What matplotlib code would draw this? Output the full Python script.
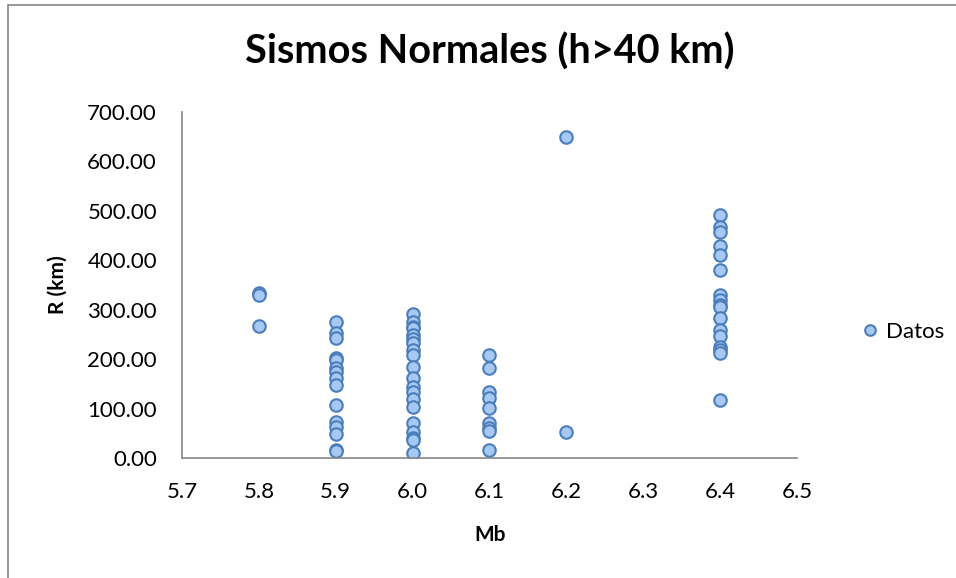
import matplotlib.pyplot as plt
from matplotlib.patches import Rectangle

# magnitude groups and distances R (km)
mb_58 = [333, 329, 268]
mb_59 = [276, 252, 242, 203, 198, 182, 175, 162, 148, 107, 72, 62, 48, 17, 15]
mb_60 = [291, 276, 265, 262, 249, 240, 232, 219, 208, 185, 161, 144, 134, 120, 104, 70, 53, 40, 36, 10]
mb_61 = [208, 182, 134, 121, 101, 70, 60, 55, 16]
mb_62 = [649, 53]
mb_64 = [492, 468, 458, 428, 411, 381, 330, 320, 310, 305, 283, 259, 246, 225, 219, 212, 117]

groups = [(5.8, mb_58), (5.9, mb_59), (6.0, mb_60), (6.1, mb_61), (6.2, mb_62), (6.4, mb_64)]
mb = []
r = []
for m, vals in groups:
    mb += [m] * len(vals)
    r += vals

plt.rcParams['font.family'] = ['Lato', 'DejaVu Sans']

fig = plt.figure(figsize=(9.56, 5.78), dpi=100)
ax = fig.add_axes([182/956, 1 - 458/578, (797-182)/956, (458-112)/578])

ax.plot(mb, r, 'o', ms=9, mfc='#a7c8f2', mec='#4a7ebb', mew=1.5, label='Datos',
        linestyle='none')

ax.set_xlim(5.7, 6.5)
ax.set_ylim(0, 700)
ax.set_xticks([5.7, 5.8, 5.9, 6.0, 6.1, 6.2, 6.3, 6.4, 6.5])
ax.set_xticklabels(['%.1f' % v for v in ax.get_xticks()])
ax.set_yticks(range(0, 701, 100))
ax.set_yticklabels(['%.2f' % v for v in range(0, 701, 100)])
ax.tick_params(length=0, labelsize=16)
ax.tick_params(axis='x', pad=17)
ax.tick_params(axis='y', pad=18)
for s in ['top', 'right']:
    ax.spines[s].set_visible(False)
for s in ['left', 'bottom']:
    ax.spines[s].set_color('#868686')
    ax.spines[s].set_linewidth(1.2)

fig.text(490/956, 1 - 535/578, 'Mb', ha='center', va='center', fontsize=15, fontweight='bold')
fig.text(58/956, 1 - 285/578, 'R (km)', ha='center', va='center', rotation=90,
         fontsize=15, fontweight='bold')
fig.text(490/956, 1 - 52/578, 'Sismos Normales (h>40 km)', ha='center', va='center',
         fontsize=28.5, fontweight='bold')

ax.legend(loc='center left', bbox_to_anchor=(848/956, 1 - 332/578),
          bbox_transform=fig.transFigure, frameon=False, fontsize=16,
          handletextpad=0.2, handlelength=1.0, markerscale=0.85, borderpad=0)

# chart border
fig.patches.append(Rectangle((8/956, -0.05), 1.1, 1.05 - 5/578, transform=fig.transFigure,
                             fill=False, ec='#868686', lw=1.2))

fig.savefig('out.png', dpi=100)
